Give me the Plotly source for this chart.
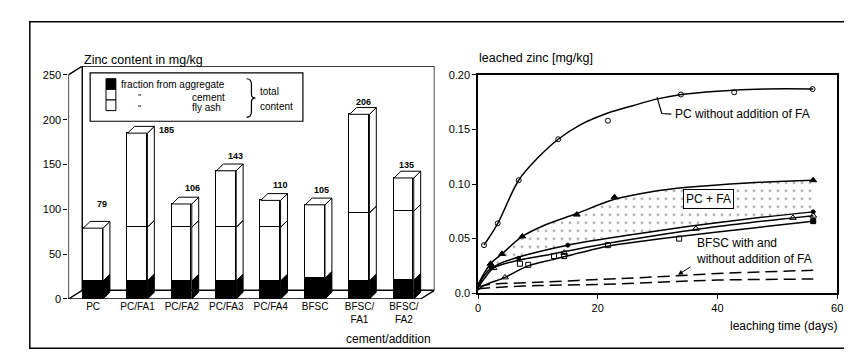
import plotly.graph_objects as go

W, H = 852, 354

# ---------------- left panel data ----------------
mixes = ["PC", "PC/FA1", "PC/FA2", "PC/FA3", "PC/FA4", "BFSC", "BFSC/FA1", "BFSC/FA2"]
mix_ticks = ["PC", "PC/FA1", "PC/FA2", "PC/FA3", "PC/FA4", "BFSC", "BFSC/<br>FA1", "BFSC/<br>FA2"]
zn_aggregate = [20, 20, 20, 20, 20, 23, 20, 21]
zn_cement = [59, 60, 60, 60, 60, 82, 76, 77]
zn_flyash = [0, 105, 26, 63, 30, 0, 110, 37]
zn_total = [79, 185, 106, 143, 110, 105, 206, 135]
left_yticks = [0, 50, 100, 150, 200, 250]

# ---------------- right panel data ----------------
pc_curve_t = [1, 3.3, 6.8, 10, 13.4, 17, 21.7, 26, 30, 34, 40, 48, 56]
pc_curve_v = [0.044, 0.064, 0.1035, 0.124, 0.141, 0.154, 0.165, 0.172, 0.178, 0.182, 0.185, 0.187, 0.187]
pc_pts_t = [1, 3.3, 6.8, 13.4, 21.7, 33.9, 42.8, 55.9]
pc_pts_v = [0.044, 0.064, 0.1035, 0.141, 0.158, 0.182, 0.184, 0.187]

fa1_curve_t = [0, 1, 2.1, 4, 7.4, 11, 16.5, 22.8, 29, 35, 45, 56]
fa1_curve_v = [0.008, 0.018, 0.027, 0.036, 0.052, 0.062, 0.073, 0.086, 0.093, 0.097, 0.101, 0.1035]
fa1_pts_t = [2.1, 4, 7.4, 16.5, 22.8, 56]
fa1_pts_v = [0.027, 0.036, 0.052, 0.072, 0.088, 0.1035]

fa2_curve_t = [0, 1, 2, 4, 8, 15, 25, 35, 45, 56]
fa2_curve_v = [0.006, 0.016, 0.022, 0.028, 0.035, 0.044, 0.053, 0.061, 0.068, 0.0745]
fa2_pts_t = [2.1, 6.8, 15, 56]
fa2_pts_v = [0.024, 0.032, 0.044, 0.0745]

fa3_curve_t = [0, 1, 2.6, 6.6, 12, 20, 30, 40, 52.6, 56]
fa3_curve_v = [0.005, 0.013, 0.023, 0.030, 0.0355, 0.044, 0.053, 0.061, 0.069, 0.071]
fa3_pts_t = [2.6, 4.5, 14.4, 36.4, 52.6, 56]
fa3_pts_v = [0.023, 0.0145, 0.037, 0.059, 0.069, 0.071]

fa4_curve_t = [0, 1, 4.5, 8.4, 12.7, 17, 21.7, 28, 33.6, 40, 48, 56]
fa4_curve_v = [0.003, 0.007, 0.0145, 0.025, 0.031, 0.037, 0.043, 0.048, 0.052, 0.056, 0.061, 0.066]
fa4_pts_t = [7, 8.4, 12.7, 14.4, 21.7, 33.6]
fa4_pts_v = [0.027, 0.026, 0.034, 0.034, 0.044, 0.050]
fa4_end_t = [56]
fa4_end_v = [0.066]

bfsc_a_t = [0, 2, 10, 20, 30, 40, 56]
bfsc_a_v = [0.006, 0.008, 0.010, 0.0125, 0.015, 0.018, 0.021]
bfsc_b_t = [0, 2, 10, 20, 30, 40, 56]
bfsc_b_v = [0.004, 0.005, 0.007, 0.008, 0.010, 0.012, 0.013]

right_xticks = [0, 20, 40, 60]
right_yticks = [0, 0.05, 0.10, 0.15, 0.20]
right_yticktext = ["0.0", "0.05", "0.10", "0.15", "0.20"]

# ---------------- geometry / style ----------------
FONT = "Liberation Sans, Arial, sans-serif"


def px(x):
    return x / W


def py(y):
    return 1 - y / H


# left panel pixel frame
L_X0, L_X1 = 58, 428          # front axis, back-wall right
L_Y0 = 295                     # value 0
UNIT = 44.87                   # px per category
VPX = 0.928                    # px per mg/kg
XR0 = -(83 - L_X0) / UNIT
XR1 = XR0 + (L_X1 - L_X0) / UNIT
YTOP = 260
BW = 0.445                     # bar front width (category units)
BDX, BDY = 7 / UNIT, 7 / VPX   # bar depth
FDX, FDY = 14 / UNIT, 9 / VPX  # frame depth

fig = go.Figure()

# frame of the 3-D box
fx, fy = [], []
for seg in [
    [(XR0, 0), (XR0, 250), (XR0 + FDX, 250 + FDY), (XR1, 250 + FDY), (XR1, FDY)],
    [(XR0 + FDX, 250 + FDY), (XR0 + FDX, FDY), (XR1, FDY)],
    [(XR0, 0), (XR0 + FDX, FDY)],
    [(XR0, 0), (XR1 - FDX, 0), (XR1, FDY)],
]:
    for a, b in seg:
        fx.append(a)
        fy.append(b)
    fx.append(None)
    fy.append(None)
fig.add_trace(go.Scatter(x=fx, y=fy, mode="lines", line=dict(color="black", width=1.4),
                         cliponaxis=False, hoverinfo="skip", showlegend=False))

idx = list(range(len(mixes)))
for vals, col, name in [(zn_aggregate, "black", "fraction from aggregate"),
                        (zn_cement, "white", "cement"),
                        (zn_flyash, "white", "fly ash")]:
    fig.add_trace(go.Bar(x=idx, y=vals, width=BW, name=name,
                         marker=dict(color=col, line=dict(color="black", width=1)),
                         showlegend=False, hovertext=mixes))

# side faces & top faces
side_black_x, side_black_y, side_white_x, side_white_y = [], [], [], []
top_x, top_y = [], []
for i in idx:
    r = i + BW / 2
    l = i - BW / 2
    lo = 0
    for k, h in enumerate([zn_aggregate[i], zn_cement[i], zn_flyash[i]]):
        if h <= 0:
            continue
        hi = lo + h
        xs = [r, r + BDX, r + BDX, r, r, None]
        ys = [lo, lo + BDY, hi + BDY, hi, lo, None]
        if k == 0:
            side_black_x += xs
            side_black_y += ys
        else:
            side_white_x += xs
            side_white_y += ys
        lo = hi
    T = zn_total[i]
    top_x += [l, l + BDX, r + BDX, r, l, None]
    top_y += [T, T + BDY, T + BDY, T, T, None]

fig.add_trace(go.Scatter(x=side_white_x, y=side_white_y, mode="lines", fill="toself",
                         fillcolor="white", line=dict(color="black", width=1),
                         hoverinfo="skip", showlegend=False))
fig.add_trace(go.Scatter(x=side_black_x, y=side_black_y, mode="lines", fill="toself",
                         fillcolor="black", line=dict(color="black", width=1),
                         hoverinfo="skip", showlegend=False))
fig.add_trace(go.Scatter(x=top_x, y=top_y, mode="lines", fill="toself",
                         fillcolor="white", line=dict(color="black", width=1),
                         hoverinfo="skip", showlegend=False))

# ---------------- right panel traces ----------------
def line(t, v, dash="solid", **kw):
    return go.Scatter(x=t, y=v, mode="lines", xaxis="x2", yaxis="y2",
                      line=dict(color="black", width=1.5, shape="spline", dash=dash),
                      hoverinfo="skip", showlegend=False, **kw)


def marks(t, v, symbol, size=6):
    return go.Scatter(x=t, y=v, mode="markers", xaxis="x2", yaxis="y2",
                      marker=dict(symbol=symbol, size=size, color="black",
                                  line=dict(color="black", width=1)),
                      showlegend=False, cliponaxis=False)


fig.add_trace(line(fa2_curve_t, fa2_curve_v))
fig.add_trace(line(fa1_curve_t, fa1_curve_v, fill="tonexty", fillcolor="rgba(0,0,0,0)",
                   fillpattern=dict(shape=".", size=8, solidity=0.1,
                                    fgcolor="#666", bgcolor="white")))
fig.add_trace(line(fa3_curve_t, fa3_curve_v))
fig.add_trace(line(fa4_curve_t, fa4_curve_v))
fig.add_trace(line(pc_curve_t, pc_curve_v))
fig.add_trace(line(bfsc_a_t, bfsc_a_v, dash="12px,6px"))
fig.add_trace(line(bfsc_b_t, bfsc_b_v, dash="12px,6px"))

fig.add_trace(marks(pc_pts_t, pc_pts_v, "circle-open", 5))
fig.add_trace(marks(fa1_pts_t, fa1_pts_v, "triangle-up", 6))
fig.add_trace(marks(fa2_pts_t, fa2_pts_v, "circle", 4))
fig.add_trace(marks(fa3_pts_t, fa3_pts_v, "triangle-up-open", 6))
fig.add_trace(marks(fa4_pts_t, fa4_pts_v, "square-open", 5))
fig.add_trace(marks(fa4_end_t, fa4_end_v, "square", 5))

# ---------------- layout ----------------
axis_common = dict(showgrid=False, zeroline=False, color="black",
                   tickfont=dict(family=FONT, size=11, color="black"))

fig.update_layout(
    width=W, height=H, margin=dict(l=0, r=0, t=0, b=0),
    paper_bgcolor="white", plot_bgcolor="rgba(0,0,0,0)",
    barmode="stack", bargap=0, showlegend=False,
    font=dict(family=FONT, color="black"),
    xaxis=dict(domain=[px(L_X0), px(L_X1)], range=[XR0, XR1], tickvals=idx,
               ticktext=mix_ticks, ticks="", showline=False,
               **{**axis_common, "tickfont": dict(family=FONT, size=10, color="black")}),
    yaxis=dict(domain=[py(L_Y0), py(L_Y0 - YTOP * VPX)], range=[0, YTOP],
               tickvals=left_yticks, ticks="outside", ticklen=4, tickwidth=1,
               showline=False, **axis_common),
    xaxis2=dict(domain=[px(472), px(835)], range=[0, 60], tickvals=right_xticks,
                ticks="outside", ticklen=4, showline=True, mirror=True, linewidth=1.5,
                linecolor="black", anchor="y2", **axis_common),
    yaxis2=dict(domain=[py(289), py(63)], range=[0, 0.2], tickvals=right_yticks,
                ticktext=right_yticktext, ticks="outside", ticklen=4, showline=True,
                mirror=True, linewidth=1.5, linecolor="black", anchor="x2", **axis_common),
)

ann = []


def ptext(x, y, text, size=11, xanchor="left", **kw):
    ann.append(dict(x=px(x), y=py(y), xref="paper", yref="paper", text=text,
                    showarrow=False, xanchor=xanchor, yanchor="middle",
                    font=dict(family=FONT, size=size, color="black"), **kw))


ptext(72, 48, "Zinc content in mg/kg", 12.5)
ptext(471, 46, "leached zinc [mg/kg]", 12.5)
ptext(426, 336, "cement/addition", 12, xanchor="right")
ptext(837, 323, "leaching time (days)", 12, xanchor="right")

# legend box content
ptext(109, 73, "fraction from aggregate", 10)
ptext(126, 86, "\"", 9)
ptext(126, 97, "\"", 9)
ptext(181, 86, "cement", 10)
ptext(181, 97, "fly ash", 10)
ptext(250, 80, "total", 10)
ptext(250, 96, "content", 10)

# value labels on the bars
label_dx_px = [9, 29, 11, 9, 10, 6, 4, 3]
label_dy_px = [24, 3, 16, 15, 15, 15, 12, 13]
for i in idx:
    ann.append(dict(x=i, y=zn_total[i], xref="x", yref="y", text="<b>%d</b>" % zn_total[i],
                    showarrow=False, xshift=label_dx_px[i], yshift=label_dy_px[i],
                    font=dict(family=FONT, size=9, color="black")))

# right panel labels
ann.append(dict(x=32.6, y=0.164, xref="x2", yref="y2", text="PC without addition of FA",
                showarrow=False, xanchor="left", yanchor="middle",
                font=dict(family=FONT, size=12, color="black")))
ann.append(dict(x=38.5, y=0.0867, xref="x2", yref="y2", text="PC + FA", showarrow=False,
                bordercolor="black", borderwidth=1, borderpad=2, bgcolor="white",
                font=dict(family=FONT, size=12, color="black")))
ann.append(dict(x=36.0, y=0.039, xref="x2", yref="y2",
                text="BFSC with and<br>without addition of FA", showarrow=False,
                xanchor="left", yanchor="middle", align="left",
                font=dict(family=FONT, size=12, color="black")))
ann.append(dict(x=33.4, y=0.0168, xref="x2", yref="y2", text="", showarrow=True,
                ax=14, ay=-9, arrowhead=2, arrowsize=1, arrowwidth=1, arrowcolor="black"))

shapes = []
# outer frame
shapes.append(dict(type="rect", xref="paper", yref="paper", x0=px(19), x1=px(848),
                   y0=py(346), y1=py(8), line=dict(color="black", width=1.5)))
# legend box
shapes.append(dict(type="rect", xref="paper", yref="paper", x0=px(80), x1=px(295),
                   y0=py(111), y1=py(61), line=dict(color="black", width=1.2),
                   fillcolor="white", layer="above"))
for y0, y1, col in [(67, 78, "black"), (78, 89, "white"), (89, 100, "white")]:
    shapes.append(dict(type="rect", xref="paper", yref="paper", x0=px(96), x1=px(106),
                       y0=py(y1), y1=py(y0), line=dict(color="black", width=1),
                       fillcolor=col, layer="above"))


def ppath(pts):
    s = ""
    for cmd, pairs in pts:
        s += cmd + " " + " ".join("%.5f,%.5f" % (px(a), py(b)) for a, b in pairs) + " "
    return s.strip()


brace = ppath([("M", [(238, 67)]), ("Q", [(243, 67), (243, 73)]), ("L", [(243, 83)]),
               ("Q", [(243, 87), (247, 87)]), ("Q", [(243, 87), (243, 91)]),
               ("L", [(243, 101)]), ("Q", [(243, 107), (238, 107)])])
shapes.append(dict(type="path", xref="paper", yref="paper", path=brace,
                   line=dict(color="black", width=1.2), layer="above"))

# leader for the PC curve label
leader = "M 29.9,0.1796 L 30.7,0.1646 L 32.3,0.1640"
shapes.append(dict(type="path", xref="x2", yref="y2", path=leader,
                   line=dict(color="black", width=1.2)))

fig.update_layout(annotations=ann, shapes=shapes)

fig.write_html("out.html")
